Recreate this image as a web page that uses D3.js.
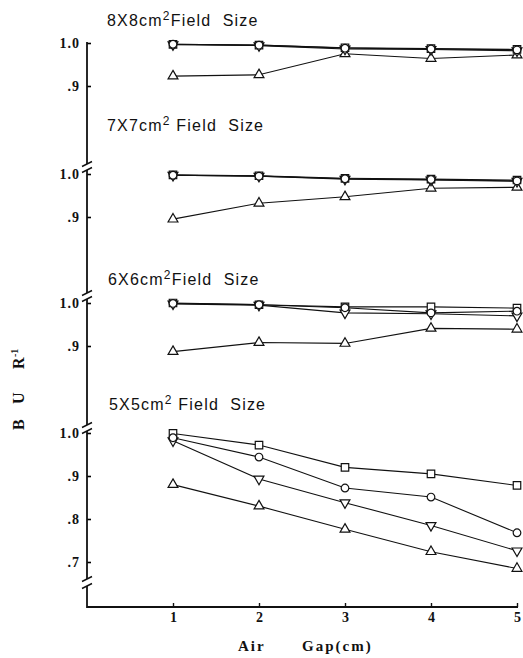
<!DOCTYPE html>
<html><head><meta charset="utf-8">
<script src="https://cdn.jsdelivr.net/npm/d3@7"></script>
<style>body{margin:0;background:#fff}svg{display:block}</style>
</head><body><svg id="c" width="523" height="658"></svg>
<script>
// ---- data ----
const gaps = [1, 2, 3, 4, 5];
const xTickLabels = ["1", "2", "3", "4", "5"];
const fieldSizes = ["8X8", "7X7", "6X6", "5X5"];

const square8 = [0.997, 0.995, 0.989, 0.987, 0.985];
const circle8 = [0.997, 0.995, 0.988, 0.986, 0.984];
const down8   = [0.996, 0.994, 0.986, 0.985, 0.982];
const up8     = [0.923, 0.926, 0.975, 0.964, 0.972];

const square7 = [0.998, 0.996, 0.990, 0.988, 0.986];
const circle7 = [0.997, 0.995, 0.989, 0.987, 0.984];
const down7   = [0.997, 0.995, 0.988, 0.986, 0.983];
const up7     = [0.895, 0.932, 0.947, 0.967, 0.969];

const square6 = [1.000, 0.996, 0.991, 0.991, 0.988];
const circle6 = [0.999, 0.996, 0.989, 0.977, 0.981];
const down6   = [0.998, 0.995, 0.977, 0.975, 0.970];
const up6     = [0.887, 0.908, 0.906, 0.941, 0.939];

const square5 = [0.999, 0.972, 0.920, 0.905, 0.878];
const circle5 = [0.989, 0.944, 0.872, 0.851, 0.768];
const down5   = [0.982, 0.893, 0.838, 0.785, 0.726];
const up5     = [0.880, 0.830, 0.776, 0.724, 0.685];

const ticksUpper = [1.0, 0.9];
const ticksLower = [1.0, 0.9, 0.8, 0.7];

// ---- layout ----
const svg = d3.select("#c");
const axisX = 87;
const pxPerUnit = 430;
const panels = [
  {size: fieldSizes[0], sp: "",  y1: 43,  ticks: ticksUpper, tx: 107, ty: 26,  s: [square8, circle8, down8, up8]},
  {size: fieldSizes[1], sp: " ", y1: 174, ticks: ticksUpper, tx: 107, ty: 131, s: [square7, circle7, down7, up7]},
  {size: fieldSizes[2], sp: "",  y1: 303, ticks: ticksUpper, tx: 108, ty: 285, s: [square6, circle6, down6, up6]},
  {size: fieldSizes[3], sp: " ", y1: 433, ticks: ticksLower, tx: 109, ty: 410, s: [square5, circle5, down5, up5]}
];
const x = d3.scaleLinear().domain([1, 5]).range([173, 517]);
const fmt = d => d === 1 ? "1.0" : "." + Math.round(d * 10);

const shapes = [
  {type: d3.symbolSquare, size: 56, rot: 0},
  {type: d3.symbolCircle, size: 46, rot: 0},
  {type: d3.symbolTriangle, size: 42, rot: 180},
  {type: d3.symbolTriangle, size: 42, rot: 0}
];
const drawOrder = [3, 0, 2, 1];

panels.forEach(p => {
  const y = d3.scaleLinear().domain([0.6, 1.0]).range([p.y1 + 0.4 * pxPerUnit, p.y1]);
  // y axis ticks
  const ga = svg.append("g").attr("transform", `translate(${axisX},0)`)
    .call(d3.axisLeft(y).tickValues(p.ticks).tickSize(-4).tickPadding(7).tickFormat(fmt));
  ga.select(".domain").remove();
  ga.selectAll(".tick line").attr("stroke", "#000").attr("stroke-width", 1.6);
  ga.selectAll(".tick text").attr("font-family", "'Liberation Serif', serif")
    .attr("font-weight", "bold").attr("font-size", 14).attr("letter-spacing", 1).attr("fill", "#111");

  // title
  const t = svg.append("text").attr("x", p.tx).attr("y", p.ty)
    .attr("font-family", "'Liberation Sans', Arial, sans-serif").attr("font-size", 16)
    .attr("letter-spacing", 1.2).attr("fill", "#111");
  t.append("tspan").text(p.size + "cm");
  t.append("tspan").attr("dy", -6).attr("font-size", 12).text("2");
  t.append("tspan").attr("dy", 6).text(p.sp + "Field\u00a0\u00a0Size");

  // lines
  const line = d3.line().x((d, i) => x(gaps[i])).y(d => y(d));
  p.s.forEach(vals => {
    svg.append("path").datum(vals).attr("d", line)
      .attr("fill", "none").attr("stroke", "#111").attr("stroke-width", 1.1);
  });
  // markers
  drawOrder.forEach(k => {
    const sh = shapes[k];
    svg.append("g").selectAll("path").data(p.s[k]).join("path")
      .attr("d", d3.symbol().type(sh.type).size(sh.size))
      .attr("transform", (d, i) => `translate(${x(gaps[i])},${y(d)}) rotate(${sh.rot})`)
      .attr("fill", "#fff").attr("stroke", "#111").attr("stroke-width", 1.2);
  });
});

// y axis line with breaks
const segs = [[42, 164], [170, 293], [299, 425], [431, 579], [586, 608]];
segs.forEach(s => {
  svg.append("line").attr("x1", axisX).attr("x2", axisX).attr("y1", s[0]).attr("y2", s[1])
    .attr("stroke", "#111").attr("stroke-width", 1.8);
});
for (let i = 0; i < segs.length - 1; i++) {
  [segs[i][1], segs[i + 1][0]].forEach(yy => {
    svg.append("line").attr("x1", axisX - 5).attr("y1", yy + 2.5).attr("x2", axisX + 5).attr("y2", yy - 2.5)
      .attr("stroke", "#111").attr("stroke-width", 1.4);
  });
}

// x axis
const xAxisY = 607;
const gx = svg.append("g").attr("transform", `translate(0,${xAxisY})`)
  .call(d3.axisBottom(x).tickValues(gaps).tickSize(-4).tickPadding(5).tickFormat((d, i) => xTickLabels[i]));
gx.select(".domain").remove();
gx.selectAll(".tick line").attr("stroke", "#111").attr("stroke-width", 1.4);
gx.selectAll(".tick text").attr("font-family", "'Liberation Serif', serif")
  .attr("font-weight", "bold").attr("font-size", 14).attr("fill", "#111");
svg.append("line").attr("x1", axisX).attr("x2", 518).attr("y1", xAxisY).attr("y2", xAxisY)
  .attr("stroke", "#111").attr("stroke-width", 1.8);

// x axis title
const xt = svg.append("text").attr("y", 651)
  .attr("font-family", "'Liberation Serif', serif").attr("font-weight", "bold")
  .attr("font-size", 15).attr("letter-spacing", 2).attr("fill", "#111");
xt.append("tspan").attr("x", 238).text("Air");
xt.append("tspan").attr("x", 302).text("Gap(cm)");

// y axis title (rotated)
const yt = svg.append("text").attr("transform", "rotate(-90)").attr("y", 24)
  .attr("font-family", "'Liberation Serif', serif").attr("font-weight", "bold")
  .attr("font-size", 16).attr("fill", "#111");
yt.append("tspan").attr("x", -430).text("B");
yt.append("tspan").attr("x", -404).text("U");
yt.append("tspan").attr("x", -369).text("R");
yt.append("tspan").attr("x", -357).attr("dy", -6).attr("font-size", 10).text("-1");
</script>
</body></html>
